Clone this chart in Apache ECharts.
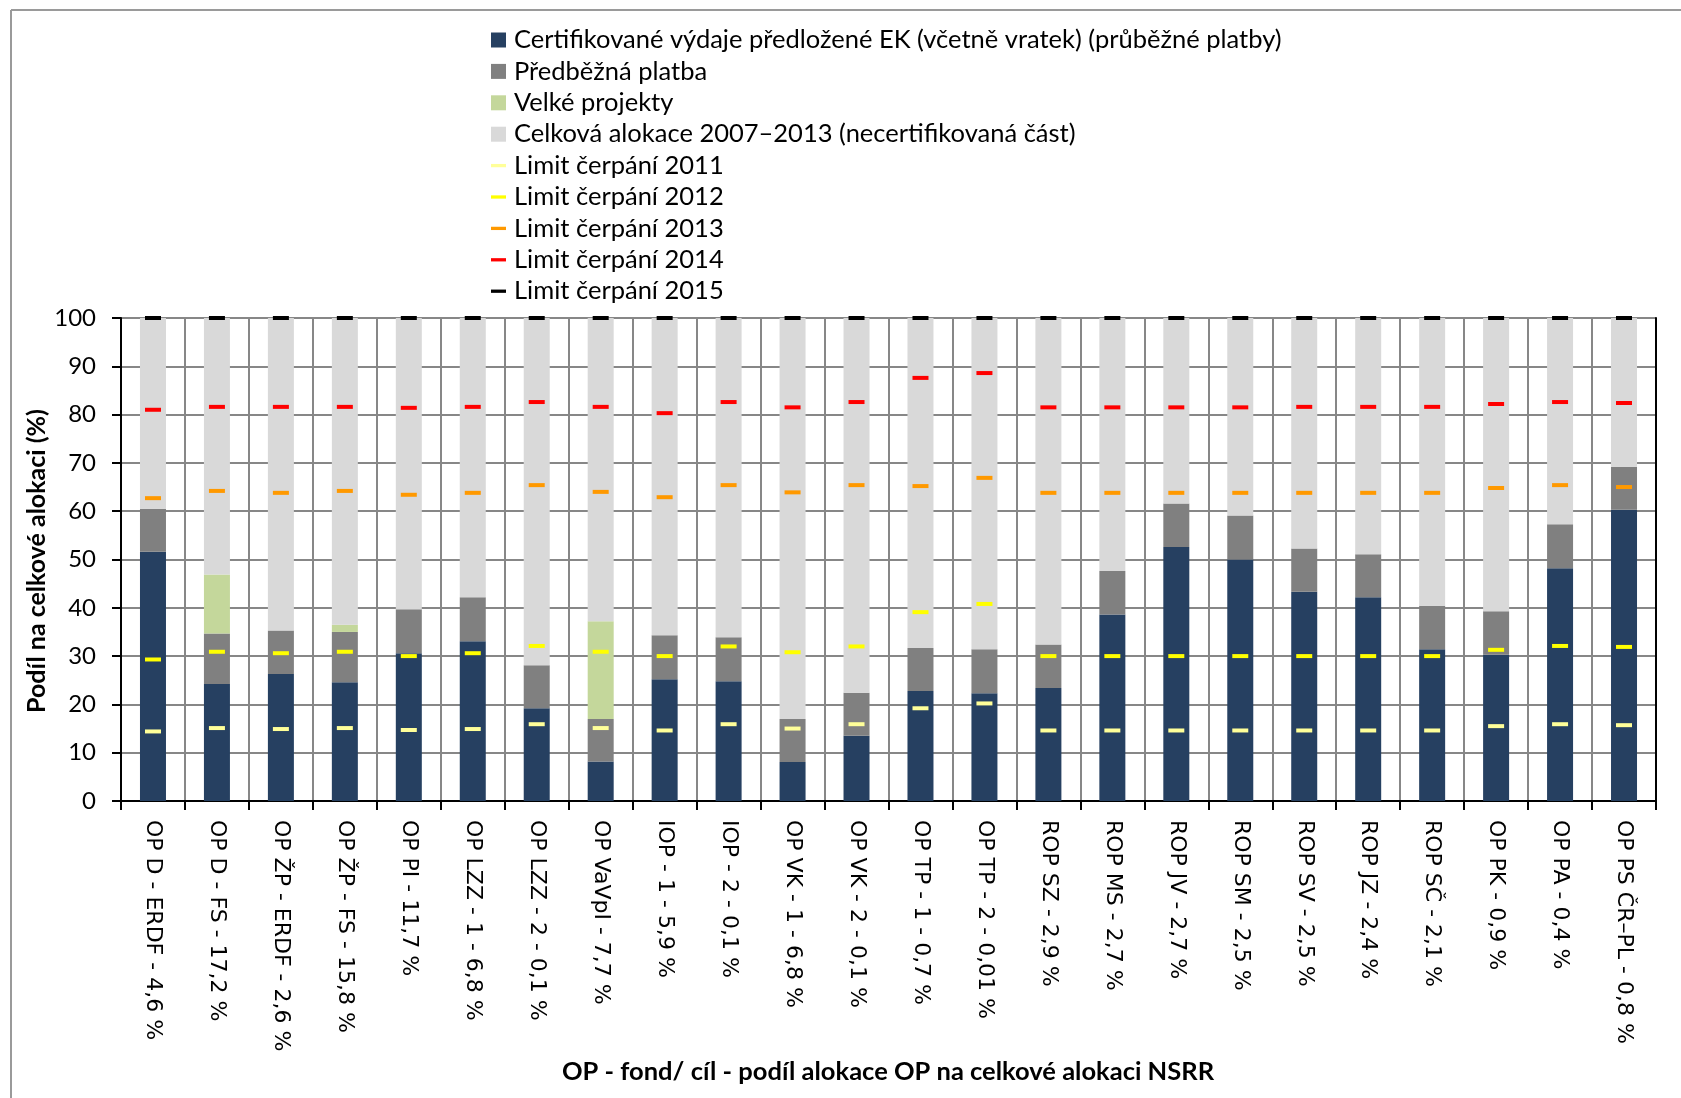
<!DOCTYPE html>
<html>
<head>
<meta charset="utf-8">
<script src="https://cdn.jsdelivr.net/npm/echarts@6/dist/echarts.min.js"></script>
<style>
html,body{margin:0;padding:0;background:#fff;}
#c{width:1681px;height:1098px;}
</style>
</head>
<body>
<div id="c"></div>
<script>
const categories = ['OP D - ERDF - 4,6 %', 'OP D - FS - 17,2 %', 'OP ŽP - ERDF - 2,6 %', 'OP ŽP - FS - 15,8 %', 'OP PI - 11,7 %', 'OP LZZ - 1 - 6,8 %', 'OP LZZ - 2 - 0,1 %', 'OP VaVpI - 7,7 %', 'IOP - 1 - 5,9 %', 'IOP - 2 - 0,1 %', 'OP VK - 1 - 6,8 %', 'OP VK - 2 - 0,1 %', 'OP TP - 1 - 0,7 %', 'OP TP - 2 - 0,01 %', 'ROP SZ - 2,9 %', 'ROP MS - 2,7 %', 'ROP JV - 2,7 %', 'ROP SM - 2,5 %', 'ROP SV - 2,5 %', 'ROP JZ - 2,4 %', 'ROP SČ - 2,1 %', 'OP PK - 0,9 %', 'OP PA - 0,4 %', 'OP PS ČR–PL - 0,8 %'];

const certifikovane = [51.6, 24.2, 26.3, 24.6, 30.6, 33.1, 19.2, 8.2, 25.2, 24.8, 8.1, 13.5, 22.8, 22.3, 23.4, 38.6, 52.6, 50.0, 43.3, 42.2, 31.4, 30.3, 48.2, 60.3];
const predbezna = [8.9, 10.5, 9.0, 10.4, 9.1, 9.1, 8.9, 8.8, 9.1, 9.1, 8.9, 8.9, 8.9, 9.1, 9.0, 9.0, 9.0, 9.1, 9.0, 8.9, 9.0, 9.0, 9.1, 8.9];
const velkeProjekty = [0, 12.2, 0, 1.5, 0, 0, 0, 20.2, 0, 0, 0, 0, 0, 0, 0, 0, 0, 0, 0, 0, 0, 0, 0, 0];
const necertifikovano = [39.5, 53.1, 64.7, 63.5, 60.3, 57.8, 71.9, 62.8, 65.7, 66.1, 83.0, 77.6, 68.3, 68.6, 67.6, 52.4, 38.4, 40.9, 47.7, 48.9, 59.6, 60.7, 42.7, 30.8];

const limit2011 = [14.4, 15.1, 14.9, 15.1, 14.7, 14.9, 15.9, 15.1, 14.6, 15.9, 15.0, 15.9, 19.2, 20.2, 14.6, 14.6, 14.6, 14.6, 14.6, 14.6, 14.6, 15.5, 15.9, 15.7];
const limit2012 = [29.3, 30.9, 30.6, 30.9, 30.0, 30.6, 32.1, 30.9, 30.0, 32.0, 30.8, 32.0, 39.1, 40.8, 30.0, 30.0, 30.0, 30.0, 30.0, 30.0, 30.0, 31.3, 32.1, 31.9];
const limit2013 = [62.7, 64.2, 63.8, 64.2, 63.4, 63.8, 65.4, 64.0, 62.9, 65.4, 63.9, 65.4, 65.2, 66.9, 63.8, 63.8, 63.8, 63.8, 63.8, 63.8, 63.8, 64.8, 65.4, 65.0];
const limit2014 = [81.0, 81.6, 81.6, 81.6, 81.4, 81.6, 82.6, 81.6, 80.3, 82.6, 81.5, 82.6, 87.6, 88.6, 81.5, 81.5, 81.5, 81.5, 81.6, 81.6, 81.6, 82.2, 82.6, 82.4];
const limit2015 = [100, 100, 100, 100, 100, 100, 100, 100, 100, 100, 100, 100, 100, 100, 100, 100, 100, 100, 100, 100, 100, 100, 100, 100];

const yTicks = {min: 0, max: 100, interval: 10};

const calFont = "Lato, Carlito, 'Open Sans', sans-serif";
const dash = 'path://M0,0 L16,0 L16,3.5 L0,3.5 Z';

function barSeries(name, data, color) {
  return {
    name: name, type: 'bar', stack: 'total', data: data, barWidth: 26,
    itemStyle: {color: color}, emphasis: {disabled: true}
  };
}
function limitSeries(name, data, color) {
  return {
    name: name, type: 'scatter', data: data, symbol: 'rect', symbolSize: [16, 4],
    itemStyle: {color: color, opacity: 1}, z: 5, clip: false, emphasis: {disabled: true}
  };
}

const chart = echarts.init(document.getElementById('c'), null, {renderer: 'canvas'});
chart.setOption({
  animation: false,
  backgroundColor: '#fff',
  textStyle: {fontFamily: calFont},
  grid: {left: 121, right: 25, top: 318, bottom: 297, containLabel: false},
  legend: {
    orient: 'vertical', left: 486, top: 22,
    itemWidth: 15, itemHeight: 15, itemGap: 5.4,
    selectedMode: false,
    textStyle: {fontFamily: calFont, fontSize: 25.5, color: '#000', padding: [0, 0, 0, 3]},
    data: [
      {name: 'Certifikované výdaje předložené EK (včetně vratek) (průběžné platby)', icon: 'rect'},
      {name: 'Předběžná platba', icon: 'rect'},
      {name: 'Velké projekty', icon: 'rect'},
      {name: 'Celková alokace 2007–2013 (necertifikovaná část)', icon: 'rect'},
      {name: 'Limit čerpání 2011', icon: dash},
      {name: 'Limit čerpání 2012', icon: dash},
      {name: 'Limit čerpání 2013', icon: dash},
      {name: 'Limit čerpání 2014', icon: dash},
      {name: 'Limit čerpání 2015', icon: dash}
    ]
  },
  xAxis: [{
    type: 'category', data: categories, boundaryGap: true,
    axisLine: {lineStyle: {color: '#000', width: 2}},
    axisTick: {show: true, alignWithLabel: false, inside: false, length: 9, lineStyle: {color: '#000', width: 2}},
    axisLabel: {rotate: -90, margin: 19, interval: 0, fontFamily: "'DejaVu Sans', Verdana, sans-serif", fontSize: 22, color: '#000'},
    splitLine: {show: true, lineStyle: {color: '#878787', width: 2}}
  }, {
    type: 'category', data: categories, position: 'top',
    axisLine: {show: true, lineStyle: {color: '#000', width: 2}},
    axisTick: {show: false}, axisLabel: {show: false}, splitLine: {show: false}
  }],
  yAxis: [{
    type: 'value', min: yTicks.min, max: yTicks.max, interval: yTicks.interval,
    axisLine: {show: true, lineStyle: {color: '#000', width: 2}},
    axisTick: {show: true, length: 9, lineStyle: {color: '#000', width: 2}},
    axisLabel: {margin: 25, fontFamily: calFont, fontSize: 24, color: '#000'},
    splitLine: {show: true, lineStyle: {color: '#878787', width: 2}}
  }, {
    type: 'value', min: yTicks.min, max: yTicks.max, interval: yTicks.interval, position: 'right',
    axisLine: {show: true, lineStyle: {color: '#000', width: 2}},
    axisTick: {show: false}, axisLabel: {show: false}, splitLine: {show: false}
  }],
  series: [
    barSeries('Certifikované výdaje předložené EK (včetně vratek) (průběžné platby)', certifikovane, '#264061'),
    barSeries('Předběžná platba', predbezna, '#808080'),
    barSeries('Velké projekty', velkeProjekty, '#C4D79B'),
    barSeries('Celková alokace 2007–2013 (necertifikovaná část)', necertifikovano, '#D9D9D9'),
    limitSeries('Limit čerpání 2011', limit2011, '#FFFF99'),
    limitSeries('Limit čerpání 2012', limit2012, '#FFFF00'),
    limitSeries('Limit čerpání 2013', limit2013, '#FF9900'),
    limitSeries('Limit čerpání 2014', limit2014, '#FF0000'),
    limitSeries('Limit čerpání 2015', limit2015, '#000000')
  ],
  graphic: [
    {type: 'line', shape: {x1: 11, y1: 10, x2: 11, y2: 1098}, style: {stroke: '#9a9a9a', lineWidth: 2}, silent: true},
    {type: 'line', shape: {x1: 11, y1: 10, x2: 1681, y2: 10}, style: {stroke: '#9a9a9a', lineWidth: 2}, silent: true},
    {type: 'text', x: 37, y: 561, rotation: Math.PI / 2,
      style: {text: 'Podíl na celkové alokaci (%)', font: "bold 25px " + calFont, fill: '#000', textAlign: 'center', textVerticalAlign: 'middle'}, silent: true},
    {type: 'text', x: 888, y: 1072,
      style: {text: 'OP - fond/ cíl - podíl alokace OP na celkové alokaci NSRR', font: "bold 25.5px " + calFont, fill: '#000', textAlign: 'center', textVerticalAlign: 'middle'}, silent: true}
  ]
});
</script>
</body>
</html>
